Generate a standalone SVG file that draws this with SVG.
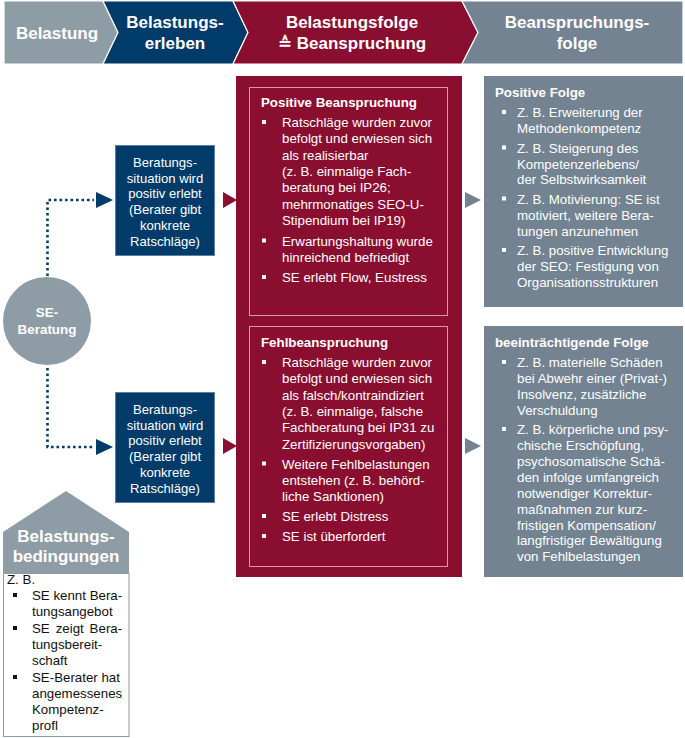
<svg xmlns="http://www.w3.org/2000/svg" width="685" height="738" viewBox="0 0 685 738">
<style>
text{font-family:"Liberation Sans","DejaVu Sans",Arial,sans-serif;}
.hd{font-size:17px;font-weight:bold;fill:#fff;text-anchor:middle;}
.bt{font-size:13.3px;fill:#fff;}
.btb{font-size:13.3px;fill:#fff;font-weight:bold;}
.bx{font-size:13.1px;fill:#fff;text-anchor:middle;}
.dk{font-size:13.3px;fill:#111;}
.wb{fill:#fff;}
.kb{fill:#111;}
.dot{fill:none;stroke:#003b6a;stroke-width:2.6;stroke-dasharray:2.6 2.9;}
</style>
<rect width="685" height="738" fill="#fff"/>

<g id="header">
  <g id="h1">
    <polygon points="4,1 103,1 118,32.5 103,64 4,64" fill="#8e9ca6" stroke="#fff" stroke-width="1.2"/>
    <text class="hd" x="57" y="39">Belastung</text>
  </g>
  <g id="h2">
    <polygon points="103,1 233,1 248,32.5 233,64 103,64 118,32.5" fill="#003b6a" stroke="#fff" stroke-width="1.2"/>
    <text class="hd" x="175" y="28">Belastungs-</text>
    <text class="hd" x="175" y="49">erleben</text>
  </g>
  <g id="h3">
    <polygon points="233,1 462,1 478,32.5 462,64 233,64 248,32.5" fill="#8a0e30" stroke="#fff" stroke-width="1.2"/>
    <text class="hd" x="352" y="28">Belastungsfolge</text>
    <text class="hd" x="352" y="49">≙ Beanspruchung</text>
  </g>
  <g id="h4">
    <polygon points="462,1 683,1 683,64 462,64 478,32.5" fill="#738391" stroke="#fff" stroke-width="1.2"/>
    <text class="hd" x="577" y="28">Beanspruchungs-</text>
    <text class="hd" x="577" y="49">folge</text>
  </g>
</g>

<g id="connectors">
  <polyline class="dot" points="47.5,276 47.5,200 94,200"/>
  <polyline class="dot" points="47.5,368 47.5,447 94,447"/>
  <polygon points="96,192 113,200 96,208" fill="#003b6a"/>
  <polygon points="96,439 113,447 96,455" fill="#003b6a"/>
  <polygon points="223,192 237,200 223,208" fill="#8a0e30"/>
  <polygon points="223,438 237,446 223,454" fill="#8a0e30"/>
  <polygon points="465,192 481,200 465,208" fill="#738391"/>
  <polygon points="465,438 481,446 465,454" fill="#738391"/>
</g>

<g id="se-beratung">
  <circle cx="47" cy="321" r="44" fill="#8e9ca6"/>
  <text x="47" y="317" font-size="13.4" font-weight="bold" fill="#fff" text-anchor="middle">SE-</text>
  <text x="47" y="334" font-size="13.4" font-weight="bold" fill="#fff" text-anchor="middle">Beratung</text>
</g>

<g id="erleben-oben">
  <rect x="115.5" y="145.5" width="99" height="110" fill="#003b6a" stroke="#5e7f9f" stroke-width="1"/>
  <text class="bx" x="165" y="167">Beratungs-</text>
  <text class="bx" x="165" y="182.7">situation wird</text>
  <text class="bx" x="165" y="198.4">positiv erlebt</text>
  <text class="bx" x="165" y="214.1">(Berater gibt</text>
  <text class="bx" x="165" y="229.8">konkrete</text>
  <text class="bx" x="165" y="245.5">Ratschläge)</text>
</g>

<g id="erleben-unten">
  <rect x="115.5" y="392.5" width="99" height="110" fill="#003b6a" stroke="#5e7f9f" stroke-width="1"/>
  <text class="bx" x="165" y="414">Beratungs-</text>
  <text class="bx" x="165" y="429.7">situation wird</text>
  <text class="bx" x="165" y="445.4">positiv erlebt</text>
  <text class="bx" x="165" y="461.1">(Berater gibt</text>
  <text class="bx" x="165" y="476.8">konkrete</text>
  <text class="bx" x="165" y="492.5">Ratschläge)</text>
</g>

<g id="beanspruchung">
  <rect x="236" y="76" width="226" height="501" fill="#8a0e30"/>
  <g id="positive-beanspruchung">
    <rect x="249.5" y="87.5" width="198" height="228" fill="none" stroke="#d49aa8" stroke-width="1"/>
    <text class="btb" x="261" y="107">Positive Beanspruchung</text>
    <rect class="wb" x="262" y="120" width="4" height="4"/>
    <text class="bt" x="282" y="127">Ratschläge wurden zuvor</text>
    <text class="bt" x="282" y="143.3">befolgt und erwiesen sich</text>
    <text class="bt" x="282" y="159.6">als realisierbar</text>
    <text class="bt" x="282" y="175.9">(z. B. einmalige Fach-</text>
    <text class="bt" x="282" y="192.2">beratung bei IP26;</text>
    <text class="bt" x="282" y="208.5">mehrmonatiges SEO-U-</text>
    <text class="bt" x="282" y="224.8">Stipendium bei IP19)</text>
    <rect class="wb" x="262" y="238.5" width="4" height="4"/>
    <text class="bt" x="282" y="245.5">Erwartungshaltung wurde</text>
    <text class="bt" x="282" y="261.8">hinreichend befriedigt</text>
    <rect class="wb" x="262" y="275" width="4" height="4"/>
    <text class="bt" x="282" y="282">SE erlebt Flow, Eustress</text>
  </g>
  <g id="fehlbeanspruchung">
    <rect x="249.5" y="326.5" width="198" height="240" fill="none" stroke="#d49aa8" stroke-width="1"/>
    <text class="btb" x="261" y="347">Fehlbeanspruchung</text>
    <rect class="wb" x="262" y="360" width="4" height="4"/>
    <text class="bt" x="282" y="367">Ratschläge wurden zuvor</text>
    <text class="bt" x="282" y="383.3">befolgt und erwiesen sich</text>
    <text class="bt" x="282" y="399.6">als falsch/kontraindiziert</text>
    <text class="bt" x="282" y="415.9">(z. B. einmalige, falsche</text>
    <text class="bt" x="282" y="432.2">Fachberatung bei IP31 zu</text>
    <text class="bt" x="282" y="448.5">Zertifizierungsvorgaben)</text>
    <rect class="wb" x="262" y="461.5" width="4" height="4"/>
    <text class="bt" x="282" y="468.5">Weitere Fehlbelastungen</text>
    <text class="bt" x="282" y="484.8">entstehen (z. B. behörd-</text>
    <text class="bt" x="282" y="501.1">liche Sanktionen)</text>
    <rect class="wb" x="262" y="514" width="4" height="4"/>
    <text class="bt" x="282" y="521">SE erlebt Distress</text>
    <rect class="wb" x="262" y="534" width="4" height="4"/>
    <text class="bt" x="282" y="541">SE ist überfordert</text>
  </g>
</g>

<g id="positive-folge">
  <rect x="484" y="76" width="199" height="231" fill="#738391"/>
  <text class="btb" x="495" y="97">Positive Folge</text>
  <rect class="wb" x="502" y="110" width="4" height="4"/>
  <text class="bt" x="517" y="117">Z. B. Erweiterung der</text>
  <text class="bt" x="517" y="133">Methodenkompetenz</text>
  <rect class="wb" x="502" y="145.5" width="4" height="4"/>
  <text class="bt" x="517" y="152.5">Z. B. Steigerung des</text>
  <text class="bt" x="517" y="168.5">Kompetenzerlebens/</text>
  <text class="bt" x="517" y="184">der Selbstwirksamkeit</text>
  <rect class="wb" x="502" y="196.5" width="4" height="4"/>
  <text class="bt" x="517" y="203.5">Z. B. Motivierung: SE ist</text>
  <text class="bt" x="517" y="219.5">motiviert, weitere Bera-</text>
  <text class="bt" x="517" y="235.5">tungen anzunehmen</text>
  <rect class="wb" x="502" y="248" width="4" height="4"/>
  <text class="bt" x="517" y="255">Z. B. positive Entwicklung</text>
  <text class="bt" x="517" y="271">der SEO: Festigung von</text>
  <text class="bt" x="517" y="287">Organisationsstrukturen</text>
</g>

<g id="beeintraechtigende-folge">
  <rect x="484" y="326" width="199" height="251" fill="#738391"/>
  <text class="btb" x="495" y="347">beeinträchtigende Folge</text>
  <rect class="wb" x="502" y="360" width="4" height="4"/>
  <text class="bt" x="517" y="367">Z. B. materielle Schäden</text>
  <text class="bt" x="517" y="383">bei Abwehr einer (Privat-)</text>
  <text class="bt" x="517" y="398.5">Insolvenz, zusätzliche</text>
  <text class="bt" x="517" y="414.5">Verschuldung</text>
  <rect class="wb" x="502" y="427" width="4" height="4"/>
  <text class="bt" x="517" y="434">Z. B. körperliche und psy-</text>
  <text class="bt" x="517" y="450">chische Erschöpfung,</text>
  <text class="bt" x="517" y="466">psychosomatische Schä-</text>
  <text class="bt" x="517" y="482">den infolge umfangreich</text>
  <text class="bt" x="517" y="497.5">notwendiger Korrektur-</text>
  <text class="bt" x="517" y="513.5">maßnahmen zur kurz-</text>
  <text class="bt" x="517" y="529.5">fristigen Kompensation/</text>
  <text class="bt" x="517" y="545">langfristiger Bewältigung</text>
  <text class="bt" x="517" y="561">von Fehlbelastungen</text>
</g>

<g id="belastungsbedingungen">
  <polygon points="66,491 129,532 129,573 3,573 3,532" fill="#8e9ca6"/>
  <rect x="3.5" y="573.5" width="125.5" height="163" fill="#fff" stroke="#8e9ca6" stroke-width="1"/>
  <text class="hd" x="66" y="542">Belastungs-</text>
  <text class="hd" x="66" y="562">bedingungen</text>
  <text class="dk" x="7" y="584">Z. B.</text>
  <rect class="kb" x="13" y="593" width="4" height="4"/>
  <text class="dk" x="32" y="600">SE kennt Bera-</text>
  <text class="dk" x="32" y="616">tungsangebot</text>
  <rect class="kb" x="13" y="626" width="4" height="4"/>
  <text class="dk" x="32" y="633" word-spacing="2.2">SE zeigt Bera-</text>
  <text class="dk" x="32" y="649">tungsbereit-</text>
  <text class="dk" x="32" y="664.5">schaft</text>
  <rect class="kb" x="13" y="675" width="4" height="4"/>
  <text class="dk" x="32" y="682">SE-Berater hat</text>
  <text class="dk" x="32" y="698">angemessenes</text>
  <text class="dk" x="32" y="713.5">Kompetenz-</text>
  <text class="dk" x="32" y="729.5">profl</text>
</g>
</svg>
